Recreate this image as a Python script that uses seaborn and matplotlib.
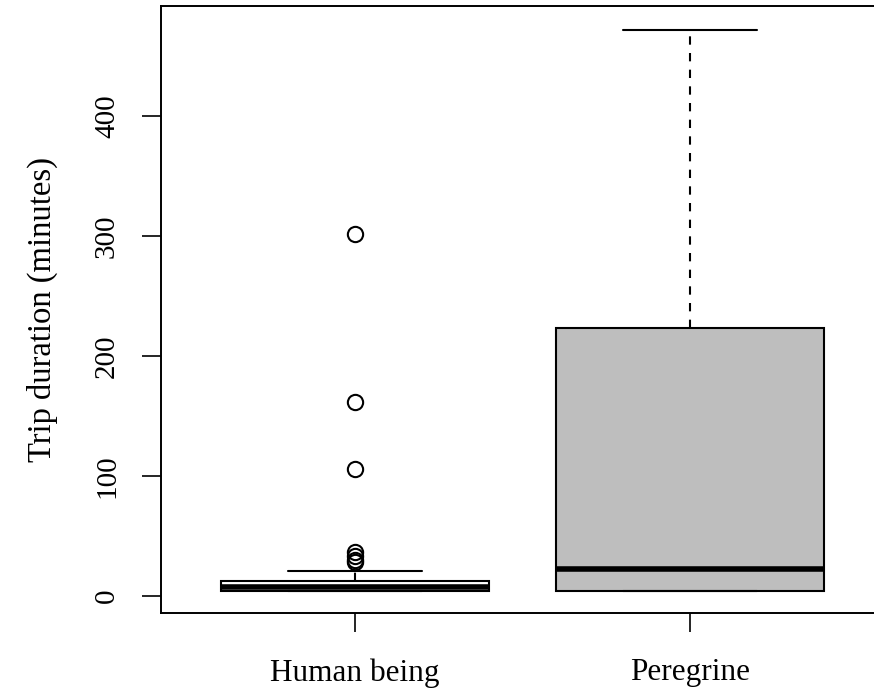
import numpy as np
import pandas as pd
import seaborn as sns
import matplotlib.pyplot as plt

# values (minutes)
groups = ["Human being", "Peregrine"]
human_minutes = [4.0, 4.0, 4.0, 4.1, 4.1, 4.1, 4.1, 4.2, 4.2, 4.2, 4.2,
                 4.5, 5.0, 5.5, 6.0, 6.3, 6.7, 7.0, 7.3, 7.6, 7.8,
                 8.2, 8.6, 9.0, 9.5, 10.0, 10.5, 11.0, 11.5, 12.0, 12.5,
                 15.0, 18.0, 21.0,
                 28.0, 30.0, 33.0, 37.0, 106.0, 162.0, 302.0]
peregrine_minutes = [4.3, 4.35, 4.4, 10.0, 22.5, 100.0, 223.0, 350.0, 472.0]
box_colors = ["white", "#BEBEBE"]
y_ticks = [0, 100, 200, 300, 400]

df = pd.DataFrame({
    "group": [groups[0]] * len(human_minutes) + [groups[1]] * len(peregrine_minutes),
    "minutes": human_minutes + peregrine_minutes,
})

sns.set_style("ticks")
plt.rcParams["font.family"] = ["Liberation Serif", "DejaVu Serif"]
plt.rcParams["text.color"] = "black"
plt.rcParams["axes.labelcolor"] = "black"

fig = plt.figure(figsize=(8.74, 6.92), dpi=100)
ax = fig.add_axes([161 / 874, 79 / 692, 723 / 874, 607 / 692])

sns.boxplot(data=df, x="group", y="minutes", hue="group", order=groups,
            hue_order=groups, palette=box_colors, saturation=1, legend=False,
            width=0.8, linecolor="black", linewidth=1.5, whis=1.5,
            flierprops=dict(marker="o", markersize=11, markerfacecolor="none",
                            markeredgecolor="black", markeredgewidth=1.5),
            medianprops=dict(linewidth=4, color="black"),
            whiskerprops=dict(linestyle=(0, (4, 4))),
            ax=ax)

ax.set_xlim(-0.58, 1.58)
ax.set_ylim(-14.2, 491.7)
ax.set_yticks(y_ticks)
ax.set_xlabel("")
ax.set_ylabel("Trip duration (minutes)", fontsize=23.5, labelpad=26, color="black")

for s in ax.spines.values():
    s.set_linewidth(1.4)
    s.set_color("black")

ax.tick_params(axis="both", direction="out", length=13.5, width=1.2,
               colors="black", labelcolor="black")
ax.tick_params(axis="y", labelrotation=90, labelsize=21, pad=16)
ax.tick_params(axis="x", labelsize=22.5, pad=19)
for lab in ax.get_yticklabels():
    lab.set_verticalalignment("center")

fig.savefig("out.png", dpi=100)
